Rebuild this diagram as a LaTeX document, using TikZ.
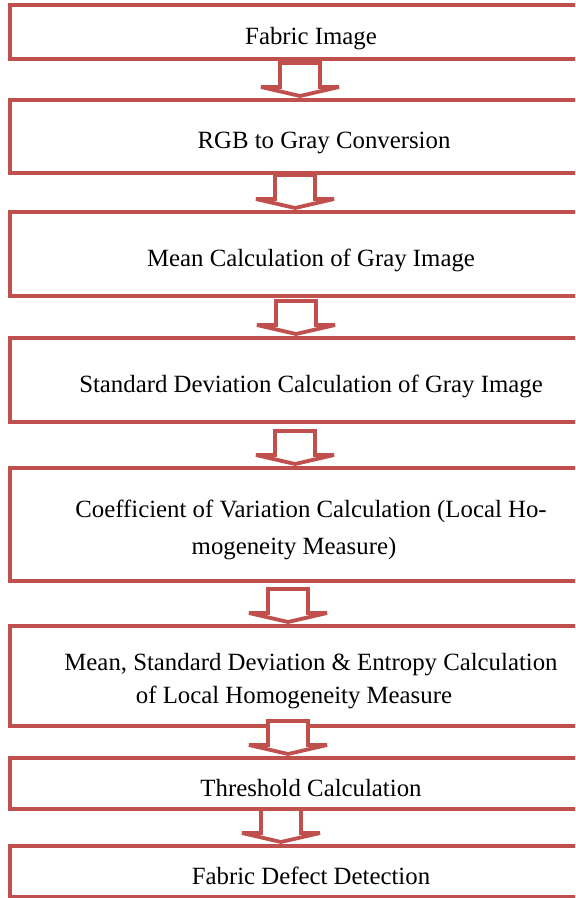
\documentclass[tikz,border=0pt]{standalone}
\usepackage{fontspec}
\setmainfont{Liberation Serif}
\usetikzlibrary{calc}
\definecolor{boxred}{RGB}{192,80,77}
\tikzset{stepbox/.style = {draw=boxred, line width=2pt, rectangle, minimum width=284pt, inner sep=0pt, outer sep=0pt, anchor=north west}}
\tikzset{steptext/.style = {align=center, inner sep=0pt, font=\fontsize{12.4}{16.5}\selectfont}}
\tikzset{blockarrow/.style = {draw=boxred, line width=1.9pt, fill=white, miter limit=2}}
\def\ind{\hspace*{17pt}}

\begin{document}
\begin{tikzpicture}[x=0.5pt, y=-0.5pt]
		% Frame
		\useasboundingbox (0,0) rectangle (575,898);
		\clip (0,0) rectangle (575,898);
		
		% Boxes
		\node[stepbox, minimum height=27pt] (b1) at (10,5.5) {};
		\node[stepbox, minimum height=36.5pt] (b2) at (10,100) {};
		\node[stepbox, minimum height=42pt] (b3) at (10,212) {};
		\node[stepbox, minimum height=42pt] (b4) at (10,338) {};
		\node[stepbox, minimum height=56.5pt] (b5) at (10,468) {};
		\node[stepbox, minimum height=50pt] (b6) at (10,626) {};
		\node[stepbox, minimum height=25.5pt] (b7) at (10,758) {};
		\node[stepbox, minimum height=25.5pt] (b8) at (10,846) {};
		
		% Texts
		\node[steptext] (t1) at ([yshift=-3pt]b1.center) {\ind Fabric Image};
		\node[steptext] (t2) at ([yshift=-3pt]b2.center) {\hspace*{30pt}RGB to Gray Conversion};
		\node[steptext] (t3) at ([yshift=-3pt]b3.center) {\ind Mean Calculation of Gray Image};
		\node[steptext] (t4) at ([yshift=-3pt]b4.center) {\ind Standard Deviation Calculation of Gray Image};
		\node[steptext] (t5) at ([yshift=-2.5pt]b5.center) {\ind Coefficient of Variation Calculation (Local Ho-\\[2pt]mogeneity Measure)};
		\node[steptext] (t6) at ([yshift=-2.5pt]b6.center) {\ind Mean, Standard Deviation \& Entropy Calculation\\of Local Homogeneity Measure};
		\node[steptext] (t7) at ([yshift=-2.5pt]b7.center) {\ind Threshold Calculation};
		\node[steptext] (t8) at ([yshift=-2pt]b8.center) {\ind Fabric Defect Detection};
		
		% Arrows
		\foreach \t/\dx in {b2/145, b3/142.5, b4/143, b5/142.5, b6/139, b7/139, b8/135.5}
		{
			\draw[blockarrow] let \p1 = (\t.north west) in
				(\x1+\dx pt-10pt, \y1+18.5pt) -- (\x1+\dx pt-10pt, \y1+6.5pt) -- (\x1+\dx pt-19.5pt, \y1+6.5pt)
				-- (\x1+\dx pt, \y1+2pt) -- (\x1+\dx pt+19.5pt, \y1+6.5pt) -- (\x1+\dx pt+10pt, \y1+6.5pt)
				-- (\x1+\dx pt+10pt, \y1+18.5pt) -- cycle;
		}
	\end{tikzpicture}
\end{document}
